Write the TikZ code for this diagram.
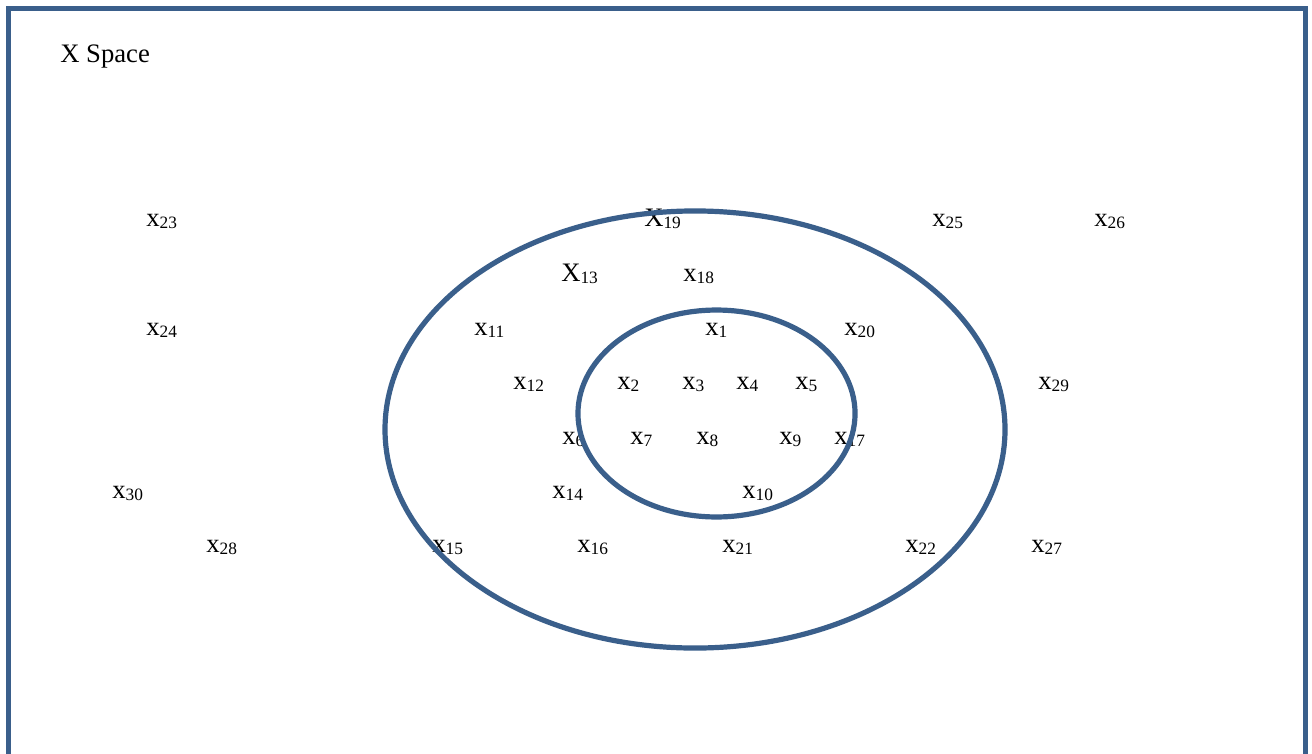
\documentclass[tikz,border=0pt]{standalone}
\usepackage{fontspec}
\setmainfont{Liberation Serif}
\definecolor{frameblue}{RGB}{58,95,139}
\newcommand\xlab[2]{#1\raisebox{-1.9pt}{\fontsize{13}{13}\selectfont #2}}
\begin{document}
\begin{tikzpicture}[x=0.75pt,y=-0.75pt,
  lab/.style={anchor=base west,inner sep=0pt,font=\fontsize{20}{24}\selectfont},
  outline/.style={draw=frameblue,line width=3.9pt}]
\clip (0,0) rectangle (1312,753);
\fill[white] (0,0) rectangle (1312,753);
\draw[outline] (8.5,8.5) rectangle (1305.5,800);
\node[lab] (title) at (60,62) {X Space};
% row 1
\node[lab] (x23) at (146,226) {\xlab{x}{23}};
\node[lab] (x19) at (644,226) {\xlab{X}{19}};
\node[lab] (x25) at (932,226) {\xlab{x}{25}};
\node[lab] (x26) at (1094,226) {\xlab{x}{26}};
% row 2
\node[lab] (x13) at (561,281) {\xlab{X}{13}};
\node[lab] (x18) at (683,281) {\xlab{x}{18}};
% row 3
\node[lab] (x24) at (146,335) {\xlab{x}{24}};
\node[lab] (x11) at (474,335) {\xlab{x}{11}};
\node[lab] (x1) at (705,335) {\xlab{x}{1}};
\node[lab] (x20) at (844,335) {\xlab{x}{20}};
% row 4
\node[lab] (x12) at (513,389) {\xlab{x}{12}};
\node[lab] (x2) at (617,389) {\xlab{x}{2}};
\node[lab] (x3) at (682,389) {\xlab{x}{3}};
\node[lab] (x4) at (736,389) {\xlab{x}{4}};
\node[lab] (x5) at (795,389) {\xlab{x}{5}};
\node[lab] (x29) at (1038,389) {\xlab{x}{29}};
% row 5
\node[lab] (x6) at (562,444) {\xlab{x}{6}};
\node[lab] (x7) at (630,444) {\xlab{x}{7}};
\node[lab] (x8) at (696,444) {\xlab{x}{8}};
\node[lab] (x9) at (779,444) {\xlab{x}{9}};
\node[lab] (x17) at (834,444) {\xlab{x}{17}};
% row 6
\node[lab] (x30) at (112,498) {\xlab{x}{30}};
\node[lab] (x14) at (552,498) {\xlab{x}{14}};
\node[lab] (x10) at (742,498) {\xlab{x}{10}};
% row 7
\node[lab] (x28) at (206,552) {\xlab{x}{28}};
\node[lab] (x15) at (432,552) {\xlab{x}{15}};
\node[lab] (x16) at (577,552) {\xlab{x}{16}};
\node[lab] (x21) at (722,552) {\xlab{x}{21}};
\node[lab] (x22) at (905,552) {\xlab{x}{22}};
\node[lab] (x27) at (1031,552) {\xlab{x}{27}};
% sets
\draw[outline] (695,429.5) ellipse [x radius=232.5pt, y radius=163.9pt];
\draw[outline] (716.5,413.5) ellipse [x radius=103.9pt, y radius=77.6pt];
\end{tikzpicture}
\end{document}
